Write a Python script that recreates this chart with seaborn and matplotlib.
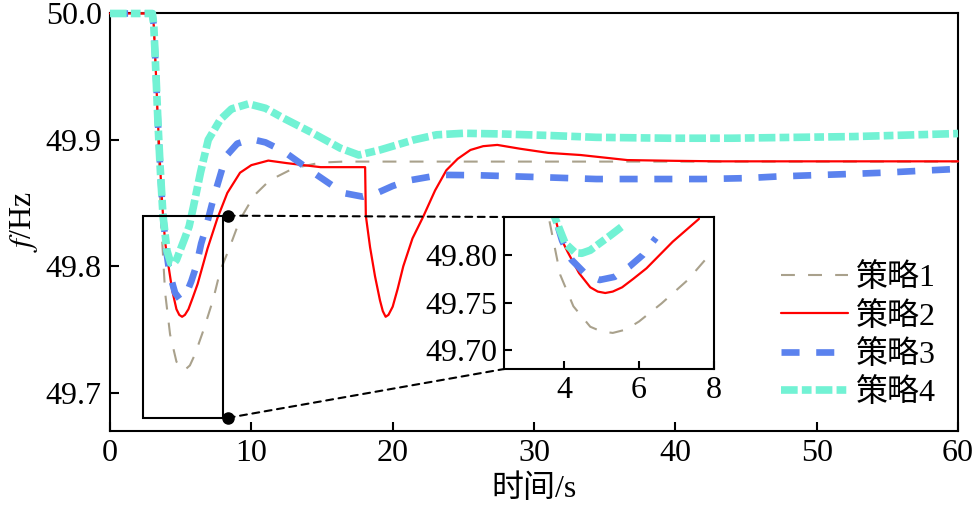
import matplotlib
matplotlib.use("Agg")
import matplotlib.pyplot as plt
import seaborn as sns
import numpy as np
import pandas as pd
from matplotlib.patches import Rectangle, ConnectionPatch

# 数据
t1 = [0, 3.0, 3.1, 3.25, 3.4, 3.6, 3.9, 4.25, 4.7, 5.0, 5.3, 5.65, 6.0, 6.6, 7.3, 7.8,
      8.4, 9.2, 10.2, 11.3, 13.0, 14.9, 16.5, 20, 30, 40, 50, 60]
f1 = [50.0, 50.0, 49.99, 49.95, 49.90, 49.838, 49.779, 49.746, 49.7245, 49.7195, 49.718,
      49.7215, 49.730, 49.749, 49.7737, 49.7965, 49.813, 49.837, 49.856, 49.868, 49.8776,
      49.882, 49.8828, 49.8828, 49.8828, 49.8828, 49.8828, 49.8828]

t2 = [0, 3.0, 3.1, 3.25, 3.4, 3.55, 3.7, 3.9, 4.1, 4.4, 4.7, 4.9, 5.1, 5.3, 5.55, 5.85,
      6.2, 6.9, 7.6, 8.3, 9.2, 10.0, 11.2, 12.5, 14.9, 18.05, 18.1, 18.4, 18.75, 19.1,
      19.3, 19.5, 19.7, 20.0, 20.35, 20.75, 21.4, 22.15, 23.0, 23.8, 24.6, 25.5, 26.4,
      27.4, 29.0, 31.0, 33.3, 36.6, 40.0, 43.2, 50.0, 60.0]
f2 = [50.0, 50.0, 49.99, 49.952, 49.912, 49.878, 49.848, 49.819, 49.803, 49.781, 49.766,
      49.7615, 49.760, 49.7615, 49.766, 49.775, 49.786, 49.814, 49.838, 49.858, 49.874,
      49.880, 49.8836, 49.8816, 49.8784, 49.8784, 49.84, 49.815, 49.792, 49.773, 49.7645,
      49.760, 49.7615, 49.768, 49.782, 49.800, 49.822, 49.839, 49.860, 49.876, 49.885,
      49.892, 49.895, 49.896, 49.893, 49.8897, 49.888, 49.884, 49.8834, 49.883, 49.883,
      49.883]

t3 = [0, 3.0, 3.1, 3.25, 3.4, 3.55, 3.7, 3.95, 4.2, 4.6, 4.95, 5.35, 5.75, 6.1, 6.45,
      6.75, 7.35, 8.2, 9.0, 10.0, 11.0, 12.3, 14.4, 16.5, 17.9, 18.9, 20.0, 21.2, 23.4,
      26.0, 30.4, 34.4, 38.0, 42.0, 45.0, 47.2, 49.7, 52.1, 54.7, 57.3, 60.0]
f3 = [50.0, 50.0, 49.99, 49.952, 49.912, 49.878, 49.848, 49.815, 49.795, 49.779, 49.7737,
      49.777, 49.788, 49.800, 49.818, 49.829, 49.855, 49.887, 49.897, 49.9006, 49.898,
      49.8908, 49.874, 49.858, 49.855, 49.858, 49.8635, 49.868, 49.8723, 49.872, 49.8705,
      49.869, 49.869, 49.869, 49.8697, 49.871, 49.872, 49.8729, 49.874, 49.8755, 49.877]

t4 = [0, 3.0, 3.1, 3.25, 3.4, 3.55, 3.75, 4.03, 4.3, 4.47, 4.7, 4.95, 5.25, 5.6, 5.9,
      6.4, 6.95, 7.8, 8.6, 9.8, 11.0, 12.3, 14.4, 16.3, 17.6, 19.1, 21.5, 23.1, 25.0,
      27.6, 31.0, 34.4, 39.6, 44.0, 47.2, 52.6, 56.1, 60.0]
f4 = [50.0, 50.0, 49.99, 49.952, 49.912, 49.878, 49.84, 49.8123, 49.8024, 49.8018,
      49.805, 49.8123, 49.821, 49.8316, 49.847, 49.874, 49.900, 49.916, 49.9245, 49.9285,
      49.925, 49.917, 49.905, 49.8934, 49.888, 49.892, 49.900, 49.904, 49.9052, 49.9047,
      49.9035, 49.902, 49.9013, 49.9013, 49.9018, 49.9026, 49.9037, 49.905]

labels = ['策略1', '策略2', '策略3', '策略4']
inset_end = [7.8, 7.7, 6.6, 5.65]   # 局部放大图中各曲线的截止时间
x_ticks = [0, 10, 20, 30, 40, 50, 60]
y_ticks = [49.7, 49.8, 49.9, 50.0]
inset_xticks = [4, 6, 8]
inset_yticks = [49.70, 49.75, 49.80]

# 样式
styles = [
    dict(color='#a9a18c', lw=1.5, linestyle=(0, (10, 9.5))),
    dict(color='#ff0000', lw=1.6, linestyle='-'),
    dict(color='#5b82ee', lw=4.8, linestyle=(0, (13, 12))),
    dict(color='#72f2d4', lw=5.5, linestyle=(0, (12, 3, 7, 3))),
]

sns.set_theme(style='ticks')
plt.rcParams['font.family'] = ['Liberation Serif', 'Noto Sans CJK SC']
plt.rcParams['mathtext.fontset'] = 'stix'
plt.rcParams['lines.scale_dashes'] = False
plt.rcParams['xtick.direction'] = 'in'
plt.rcParams['ytick.direction'] = 'in'
plt.rcParams['text.color'] = 'black'
plt.rcParams['axes.labelcolor'] = 'black'
plt.rcParams['xtick.color'] = 'black'
plt.rcParams['ytick.color'] = 'black'

fs = 23
fig = plt.figure(figsize=(9.77, 5.09), dpi=100)
ax = fig.add_axes([0.1126, 0.1542, 0.8680, 0.8193])

series = [(t1, f1), (t2, f2), (t3, f3), (t4, f4)]
for (t, f), lab, st in zip(series, labels, styles):
    df = pd.DataFrame({'t': t, 'f': f})
    sns.lineplot(data=df, x='t', y='f', ax=ax, label=lab, clip_on=False, zorder=3, **st)

ax.set_xlim(0, 60)
ax.set_ylim(49.67, 50.0)
ax.set_xticks(x_ticks)
ax.set_yticks(y_ticks)
ax.set_yticklabels([f'{v:.1f}' for v in y_ticks])
ax.tick_params(labelsize=fs, length=6.5, width=1.5, pad=6, colors='black')
for s in ax.spines.values():
    s.set_linewidth(1.5)
    s.set_color('black')
ax.set_xlabel('时间/s', fontsize=fs, labelpad=5)
ax.set_ylabel('$\\mathit{f}$/Hz', fontsize=fs, labelpad=4)

leg = ax.legend(loc='lower right', bbox_to_anchor=(1.0, 0.0), frameon=False, fontsize=fs,
                handlelength=2.1, handletextpad=0.25, labelspacing=0.26, borderaxespad=0.3)

# 局部放大
ix0, ix1 = 2.4, 8.0
iy0, iy1 = 49.68, 49.84
ax.add_patch(Rectangle((ix0 - 0.05, iy0), ix1 - ix0 + 0.05, iy1 - iy0, fill=False,
                       edgecolor='black', lw=1.5, zorder=4))
dot_x = ix1 + 0.33
ax.plot([dot_x, dot_x], [iy1, iy0], 'o', color='black', ms=8, zorder=5, clip_on=False)

axins = fig.add_axes([0.5159, 0.2750, 0.2149, 0.2987])
for (t, f), end, st in zip(series, inset_end, styles):
    df = pd.DataFrame({'t': t, 'f': f})
    df = df[df['t'] <= end]
    sns.lineplot(data=df, x='t', y='f', ax=axins, legend=False, **st)
axins.set_xlim(ix0, ix1)
axins.set_ylim(iy0, iy1)
axins.set_xticks(inset_xticks)
axins.set_yticks(inset_yticks)
axins.set_yticklabels([f'{v:.2f}' for v in inset_yticks])
axins.set_xlabel('')
axins.set_ylabel('')
axins.tick_params(labelsize=fs, length=6, width=1.5, pad=5, colors='black')
for s in axins.spines.values():
    s.set_linewidth(1.5)
    s.set_color('black')

for ya, yb in [(iy1, 1), (iy0, 0)]:
    con = ConnectionPatch(xyA=(dot_x, ya), coordsA=ax.transData,
                          xyB=(0, yb), coordsB=axins.transAxes,
                          color='black', lw=1.5, linestyle=(0, (5, 4)))
    fig.add_artist(con)

fig.savefig('out.png', dpi=100)
